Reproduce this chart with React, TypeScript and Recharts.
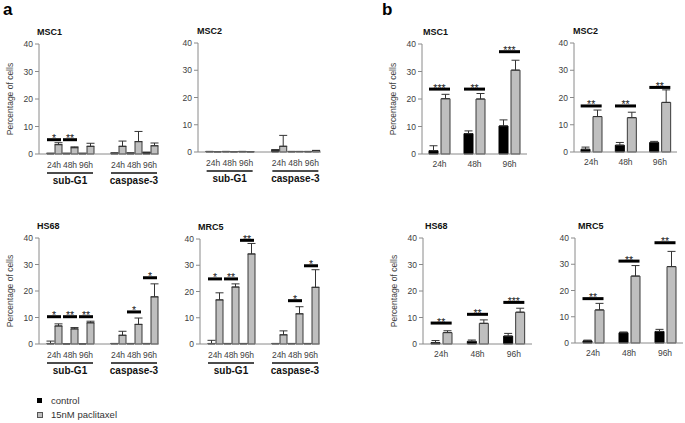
import React from 'react'
import { ComposedChart, Bar, Line, XAxis, YAxis, ErrorBar } from 'recharts'

const FONT = '"Liberation Sans", Arial, sans-serif'

// panel a: sub-G1 and caspase-3 at three time points, empty slot between the two groups
const aCategories = ['24h', '48h', '96h', '', '24h', '48h', '96h']
const aGroups = ['sub-G1', 'caspase-3']
const bCategories = ['24h', '48h', '96h']

const aMsc1Control = [0.2, 0.2, 0.2, null, 0.3, 0.3, 0.5]
const aMsc1ControlErr = [0.1, 0.1, 0.1, null, 0.1, 0.1, 0.2]
const aMsc1Pac = [3.4, 2.3, 2.8, null, 2.8, 4.5, 3.0]
const aMsc1PacErr = [0.7, 0.3, 1.1, null, 1.9, 3.7, 1.0]
const aMsc1Sig = [5.2, 5.2, null, null, null, null, null]
const aMsc1Stars = ['*', '**', '', '', '', '', '']

const aMsc2Control = [0.2, 0.2, 0.2, null, 0.6, 0.2, 0.2]
const aMsc2ControlErr = [0, 0, 0, null, 0.3, 0, 0]
const aMsc2Pac = [0.1, 0.1, 0.1, null, 2.1, 0.2, 0.5]
const aMsc2PacErr = [0, 0, 0, null, 4.0, 0, 0.1]

const aHs68Control = [0.2, 0.1, 0.1, null, 0.2, 0.2, 0.2]
const aHs68ControlErr = [0.9, 0, 0, null, 0, 0, 0]
const aHs68Pac = [6.8, 5.7, 8.0, null, 3.3, 7.4, 17.8]
const aHs68PacErr = [0.8, 0.5, 0.6, null, 1.5, 2.4, 4.9]
const aHs68Sig = [10.3, 10.3, 10.3, null, null, 12.1, 25.0]
const aHs68Stars = ['*', '**', '**', '', '', '*', '*']

const aMrc5Control = [0.2, 0.2, 0.2, null, 0.2, 0.2, 0.2]
const aMrc5ControlErr = [1.2, 0, 0, null, 0, 0, 0]
const aMrc5Pac = [16.8, 21.7, 34.3, null, 3.5, 11.5, 21.6]
const aMrc5PacErr = [2.7, 1.2, 4.0, null, 1.5, 2.7, 6.7]
const aMrc5Sig = [24.8, 24.8, 39.5, null, null, 16.5, 29.8]
const aMrc5Stars = ['*', '**', '**', '', '', '*', '*']

const bMsc1Control = [1.2, 7.4, 10.2]
const bMsc1ControlErr = [1.8, 1.0, 2.2]
const bMsc1Pac = [20.1, 20.0, 30.5]
const bMsc1PacErr = [1.6, 2.0, 3.6]
const bMsc1Sig = [23.6, 23.6, 37.2]
const bMsc1Stars = ['***', '**', '***']

const bMsc2Control = [1.0, 2.5, 3.5]
const bMsc2ControlErr = [0.8, 1.0, 0.4]
const bMsc2Pac = [13.0, 12.6, 18.2]
const bMsc2PacErr = [2.4, 2.0, 4.6]
const bMsc2Sig = [16.9, 16.9, 23.7]
const bMsc2Stars = ['**', '**', '**']

const bHs68Control = [0.5, 1.0, 3.0]
const bHs68ControlErr = [0.8, 0.5, 1.0]
const bHs68Pac = [4.3, 7.8, 12.0]
const bHs68PacErr = [0.7, 1.3, 1.5]
const bHs68Sig = [7.9, 11.2, 15.7]
const bHs68Stars = ['**', '**', '***']

const bMrc5Control = [0.8, 3.9, 4.4]
const bMrc5ControlErr = [0.3, 0.3, 0.8]
const bMrc5Pac = [12.6, 25.5, 29.1]
const bMrc5PacErr = [2.5, 4.0, 5.8]
const bMrc5Sig = [16.9, 31.2, 38.2]
const bMrc5Stars = ['**', '**', '**']

const yTicks = [0, 10, 20, 30, 40]

function rows(cats: string[], ctrl: any[], ctrlErr: any[], pac: any[], pacErr: any[], sig?: any[], stars?: string[]) {
  return cats.map((cat, i) => ({
    cat,
    control: ctrl[i],
    controlErr: ctrlErr[i] == null ? null : [0, ctrlErr[i]],
    pac: pac[i],
    pacErr: pacErr[i] == null ? null : [0, pacErr[i]],
    sig: sig ? sig[i] : null,
    stars: stars ? stars[i] : '',
  }))
}

const panels = [
  { kind: 'a', title: 'MSC1', titleX: 37, plotLeft: 39, plotTop: 44, w: 120, h: 110, yLabel: true,
    data: rows(aCategories, aMsc1Control, aMsc1ControlErr, aMsc1Pac, aMsc1PacErr, aMsc1Sig, aMsc1Stars) },
  { kind: 'a', title: 'MSC2', titleX: 197, plotLeft: 198, plotTop: 43, w: 123, h: 109, yLabel: false,
    data: rows(aCategories, aMsc2Control, aMsc2ControlErr, aMsc2Pac, aMsc2PacErr) },
  { kind: 'a', title: 'HS68', titleX: 37, plotLeft: 39, plotTop: 238, w: 120, h: 106, yLabel: true,
    data: rows(aCategories, aHs68Control, aHs68ControlErr, aHs68Pac, aHs68PacErr, aHs68Sig, aHs68Stars) },
  { kind: 'a', title: 'MRC5', titleX: 198, plotLeft: 200, plotTop: 239, w: 120, h: 105, yLabel: false,
    data: rows(aCategories, aMrc5Control, aMrc5ControlErr, aMrc5Pac, aMrc5PacErr, aMrc5Sig, aMrc5Stars) },
  { kind: 'b', title: 'MSC1', titleX: 423, plotLeft: 422, plotTop: 44, w: 105, h: 110, yLabel: true,
    data: rows(bCategories, bMsc1Control, bMsc1ControlErr, bMsc1Pac, bMsc1PacErr, bMsc1Sig, bMsc1Stars) },
  { kind: 'b', title: 'MSC2', titleX: 573, plotLeft: 574, plotTop: 43, w: 103, h: 109, yLabel: false,
    data: rows(bCategories, bMsc2Control, bMsc2ControlErr, bMsc2Pac, bMsc2PacErr, bMsc2Sig, bMsc2Stars) },
  { kind: 'b', title: 'HS68', titleX: 425, plotLeft: 423, plotTop: 238, w: 109, h: 106, yLabel: true,
    data: rows(bCategories, bHs68Control, bHs68ControlErr, bHs68Pac, bHs68PacErr, bHs68Sig, bHs68Stars) },
  { kind: 'b', title: 'MRC5', titleX: 578, plotLeft: 575, plotTop: 238, w: 108, h: 105, yLabel: false,
    data: rows(bCategories, bMrc5Control, bMrc5ControlErr, bMrc5Pac, bMrc5PacErr, bMrc5Sig, bMrc5Stars) },
]

function GroupTick(props: any) {
  const { x, y, payload, index } = props
  const g = [1, 5].indexOf(index)
  return (
    <g>
      <text x={x} y={y + 8} dy="0.71em" textAnchor="middle" fontSize={8.5} fill="#404040" stroke="none" fontFamily={FONT}>
        {payload.value}
      </text>
      {g >= 0 && (
        <>
          <line x1={x - 23} x2={x + 23} y1={y + 19} y2={y + 19} stroke="#111" strokeWidth={1.5} />
          <text x={x} y={y + 23} dy="0.71em" textAnchor="middle" fontSize={10} fontWeight="bold" fill="#111" stroke="none" fontFamily={FONT}>
            {aGroups[g]}
          </text>
        </>
      )}
    </g>
  )
}

function TimeTick(props: any) {
  const { x, y, payload } = props
  return (
    <text x={x} y={y + 7} dy="0.71em" textAnchor="middle" fontSize={8.5} fill="#404040" stroke="none" fontFamily={FONT}>
      {payload.value}
    </text>
  )
}

function sigMark(half: number) {
  return (p: any) => {
    const key = `sig-${p.index}`
    if (p.cy == null || p.payload == null || p.payload.sig == null) return <g key={key} />
    return (
      <g key={key}>
        <rect x={p.cx - half} y={p.cy - 1.5} width={half * 2} height={3} fill="#000" stroke="none" />
        <text x={p.cx} y={p.cy + 2.5} textAnchor="middle" fontSize={10.5} fill="#1a1a1a" stroke="none" fontFamily={FONT}>
          {p.payload.stars}
        </text>
      </g>
    )
  }
}

function Panel({ p }: { p: any }) {
  const isA = p.kind === 'a'
  const width = 40 + p.w + 4
  const height = 10 + p.h + 42
  return (
    <>
      <div style={{ position: 'absolute', left: p.titleX, top: p.plotTop - 18, fontSize: 9, lineHeight: '12px', fontWeight: 'bold', color: '#111', fontFamily: FONT }}>
        {p.title}
      </div>
      <div style={{ position: 'absolute', left: p.plotLeft - 40, top: p.plotTop - 10 }}>
        <ComposedChart
          width={width}
          height={height}
          data={p.data}
          margin={{ top: 10, right: 4, left: 0, bottom: 0 }}
          barSize={isA ? 7 : 9}
          barGap={isA ? 1 : 3}
        >
          <XAxis
            dataKey="cat"
            height={42}
            interval={0}
            tickLine={false}
            tickSize={0}
            tickMargin={0}
            padding={isA ? { left: 7, right: 1 } : { left: 0, right: 0 }}
            axisLine={{ stroke: '#8a8a8a' }}
            tick={isA ? <GroupTick /> : <TimeTick />}
          />
          <YAxis
            width={40}
            domain={[0, 40]}
            ticks={yTicks}
            interval={0}
            tickSize={4}
            tickMargin={2}
            axisLine={{ stroke: '#8a8a8a' }}
            tickLine={{ stroke: '#8a8a8a' }}
            tick={{ fontSize: 8.5, fill: '#404040', fontFamily: FONT }}
            label={p.yLabel ? {
              value: 'Percentage of cells', angle: -90, position: 'insideLeft', offset: 11,
              style: { textAnchor: 'middle', fontSize: 8.5, fill: '#404040', fontFamily: FONT },
            } : undefined}
          />
          <Bar dataKey="control" fill="#000" stroke="#000" strokeWidth={1} isAnimationActive={false}>
            <ErrorBar dataKey="controlErr" width={4} stroke="#333" strokeWidth={1} />
          </Bar>
          <Bar dataKey="pac" fill="#bfbfbf" stroke="#3a3a3a" strokeWidth={1} isAnimationActive={false}>
            <ErrorBar dataKey="pacErr" width={4} stroke="#333" strokeWidth={1} />
          </Bar>
          <Line
            dataKey="sig"
            stroke="none"
            dot={sigMark(isA ? 7 : 10.5)}
            activeDot={false}
            legendType="none"
            isAnimationActive={false}
          />
        </ComposedChart>
      </div>
    </>
  )
}

export default function App() {
  return (
    <div style={{ position: 'absolute', left: 0, top: 0, width: 685, height: 423, background: '#fff', overflow: 'hidden', fontFamily: FONT }}>
      <div style={{ position: 'absolute', left: 3, top: 0, fontSize: 17, fontWeight: 'bold', lineHeight: '20px' }}>a</div>
      <div style={{ position: 'absolute', left: 382, top: 0, fontSize: 17, fontWeight: 'bold', lineHeight: '20px' }}>b</div>
      {panels.map((p, i) => <Panel key={i} p={p} />)}
      <div style={{ position: 'absolute', left: 37, top: 398, width: 5, height: 5, background: '#000' }} />
      <div style={{ position: 'absolute', left: 51, top: 395, fontSize: 9.5, lineHeight: '12px', color: '#333' }}>control</div>
      <div style={{ position: 'absolute', left: 37, top: 412, width: 4, height: 4, background: '#bfbfbf', border: '1px solid #555' }} />
      <div style={{ position: 'absolute', left: 51, top: 409, fontSize: 9.5, lineHeight: '12px', color: '#333' }}>15nM paclitaxel</div>
    </div>
  )
}
